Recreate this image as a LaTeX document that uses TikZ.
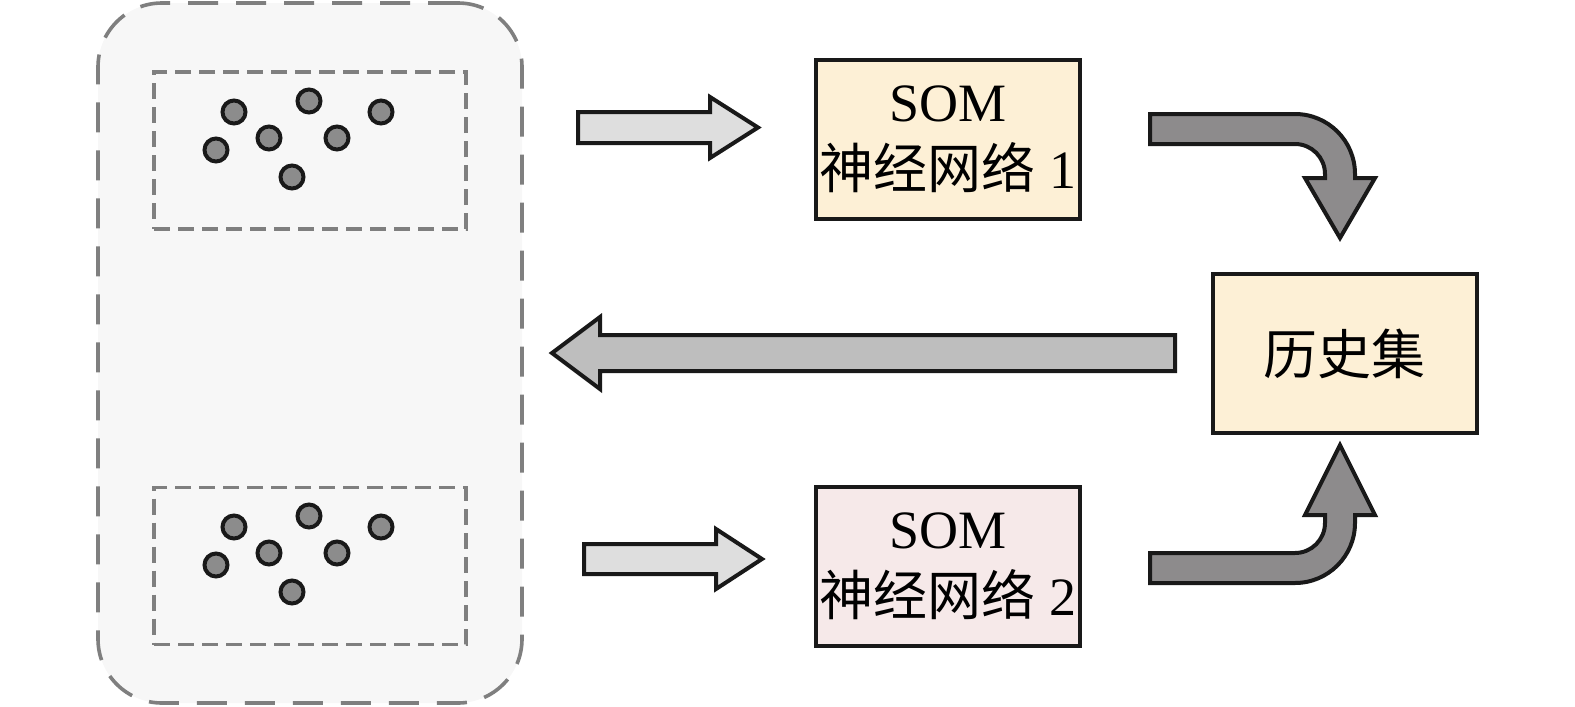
\documentclass[tikz,border=0pt]{standalone}
\usepackage{fontspec}
\setmainfont{Liberation Serif}
\newfontfamily\cjk{Noto Sans CJK SC}
\usetikzlibrary{positioning}
\definecolor{cPool}{HTML}{F7F7F7}
\definecolor{cDash}{HTML}{7F7F7F}
\definecolor{cDot}{HTML}{8C8C8C}
\definecolor{cNetA}{HTML}{FDF0D6}
\definecolor{cNetB}{HTML}{F6E9E9}
\definecolor{cLight}{HTML}{DEDEDE}
\definecolor{cMid}{HTML}{BEBEBE}
\definecolor{cDark}{HTML}{8D8B8C}
\tikzset{
  pool/.style={rectangle,draw=cDash,fill=cPool,line width=1.8pt,dash pattern=on 15pt off 9pt,rounded corners=32pt,minimum width=212pt,minimum height=350pt,inner sep=0pt},
  grp/.style={rectangle,draw=cDash,line width=1.7pt,dash pattern=on 8pt off 4pt,minimum width=156pt,minimum height=78.5pt,inner sep=0pt},
  dot/.style={circle,fill=cDot,draw=black!90,line width=2pt,inner sep=0pt,minimum size=11.5pt},
  netbox/.style={rectangle,draw=black!90,line width=2pt,minimum width=132pt,minimum height=79.5pt,align=center,inner sep=0pt,font=\fontsize{27pt}{33.5pt}\selectfont},
  blk/.style={draw=black!90,line width=2pt,line join=miter},
}
\begin{document}
\begin{tikzpicture}[x=0.5pt,y=-0.5pt]
  \useasboundingbox (0,0) rectangle (1575,707);
  % sample pool with two groups
  \node[pool] (pool) at (310,353) {};
  \node[grp] (grp1) at (310,150.5) {};
  \node[grp] (grp2) at (310,566) {};
  \foreach \g/\dy in {1/0,2/415}{
    \foreach \i/\px/\py in {1/234/112,2/309/101,3/381/112,4/269/138,5/337/138,6/216/150,7/292/177}{
      \node[dot] (d\g\i) at (\px,\py+\dy) {};
    }
  }
  % networks and history set
  \node[netbox,fill=cNetA] (som1) at (948,139.5) {SOM\\{\cjk 神经网络} 1};
  \node[netbox,fill=cNetB] (som2) at (948,566.5) {SOM\\{\cjk 神经网络} 2};
  \node[netbox,fill=cNetA] (hist) at (1344.5,353.5) {{\cjk 历史集}};
  % straight block arrows
  \draw[blk,fill=cLight] (578,112) -- (710,112) -- (710,97) -- (758,127.5) -- (710,158) -- (710,143) -- (578,143) -- cycle;
  \draw[blk,fill=cLight] (584,544) -- (716,544) -- (716,529) -- (762,559) -- (716,589) -- (716,574) -- (584,574) -- cycle;
  \draw[blk,fill=cMid] (1175,335) -- (600,335) -- (600,317) -- (552,353) -- (600,389) -- (600,371) -- (1175,371) -- cycle;
  % bent arrows into the history set
  \draw[blk,fill=cDark] (1150,114) -- (1295,114) arc(-90:0:60) -- (1355,178) -- (1375,178) -- (1340,238)
    -- (1305,178) -- (1325,178) -- (1325,174) arc(0:-90:30) -- (1150,144) -- cycle;
  \draw[blk,fill=cDark] (1150,583) -- (1295,583) arc(90:0:60) -- (1355,515) -- (1375,515) -- (1340,445)
    -- (1305,515) -- (1325,515) -- (1325,523) arc(0:90:30) -- (1150,553) -- cycle;
\end{tikzpicture}
\end{document}
